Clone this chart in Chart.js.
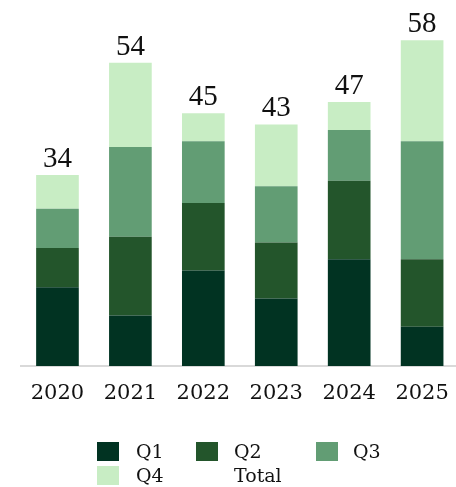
<!DOCTYPE html>
<html>
<head>
<meta charset="utf-8">
<script src="https://cdn.jsdelivr.net/npm/chart.js@4/dist/chart.umd.min.js"></script>
<style>
  html, body { margin: 0; padding: 0; background: #fff; overflow: hidden; }
  #wrap { position: relative; width: 464px; height: 487px; }
  canvas { position: absolute; left: 0; top: 0; }
  .lg { position: absolute; font-family: "DejaVu Serif", serif; font-size: 19px; color: #111; line-height: 19px; }
  .sw { position: absolute; width: 22px; height: 19px; }
</style>
</head>
<body>
<div id="wrap">
  <canvas id="c" width="464" height="487"></canvas>
  <div id="legend"></div>
</div>
<script>
const categories = ["2020", "2021", "2022", "2023", "2024", "2025"];
const seriesNames = ["Q1", "Q2", "Q3", "Q4"];
const q1 = [14, 9, 17, 12, 19, 7];
const q2 = [7, 14, 12, 10, 14, 12];
const q3 = [7, 16, 11, 10, 9, 21];
const q4 = [6, 15, 5, 11, 5, 18];
const colors = ["#013322", "#23552b", "#629d74", "#c8edc4"];

const seriesValues = [q1, q2, q3, q4];

const totalLabels = {
  id: 'totalLabels',
  afterDatasetsDraw(chart) {
    const ctx = chart.ctx;
    const y = chart.scales.y;
    const lastMeta = chart.getDatasetMeta(seriesValues.length - 1);
    ctx.save();
    ctx.font = '29px "Liberation Serif", serif';
    ctx.fillStyle = '#111';
    ctx.textAlign = 'center';
    ctx.textBaseline = 'alphabetic';
    categories.forEach((c, i) => {
      const total = seriesValues.reduce((s, arr) => s + arr[i], 0);
      const x = lastMeta.data[i].x;
      ctx.fillText(String(total), x, y.getPixelForValue(total) - 8);
    });
    ctx.restore();
  }
};

new Chart(document.getElementById('c'), {
  type: 'bar',
  data: {
    labels: categories,
    datasets: seriesNames.map((n, k) => ({
      label: n,
      data: seriesValues[k],
      backgroundColor: colors[k],
      borderWidth: 0,
      categoryPercentage: 1,
      barPercentage: 0.585
    }))
  },
  options: {
    responsive: false,
    animation: false,
    layout: { padding: { left: 21, right: 2, top: 29, bottom: 0 } },
    plugins: { legend: { display: false }, tooltip: { enabled: false } },
    scales: {
      x: {
        stacked: true,
        grid: { display: false, drawTicks: false },
        border: { display: true, color: '#d9d9d9', width: 2 },
        ticks: { color: '#111', padding: 15, font: { family: '"DejaVu Serif", serif', size: 21 } },
        afterFit(s) { s.height = 121; }
      },
      y: {
        stacked: true,
        display: false,
        min: 0,
        max: 60
      }
    }
  },
  plugins: [totalLabels]
});

// legend
const legendItems = [
  { name: "Q1", color: colors[0], sx: 97, tx: 136, y: 442 },
  { name: "Q2", color: colors[1], sx: 196, tx: 234, y: 442 },
  { name: "Q3", color: colors[2], sx: 316, tx: 353, y: 442 },
  { name: "Q4", color: colors[3], sx: 97, tx: 136, y: 466 },
  { name: "Total", color: null, sx: 196, tx: 234, y: 466 }
];
const lg = document.getElementById('legend');
legendItems.forEach(it => {
  if (it.color) {
    const s = document.createElement('div');
    s.className = 'sw';
    s.style.left = it.sx + 'px';
    s.style.top = it.y + 'px';
    s.style.background = it.color;
    lg.appendChild(s);
  }
  const t = document.createElement('div');
  t.className = 'lg';
  t.style.left = it.tx + 'px';
  t.style.top = it.y + 'px';
  t.textContent = it.name;
  lg.appendChild(t);
});
</script>
</body>
</html>
